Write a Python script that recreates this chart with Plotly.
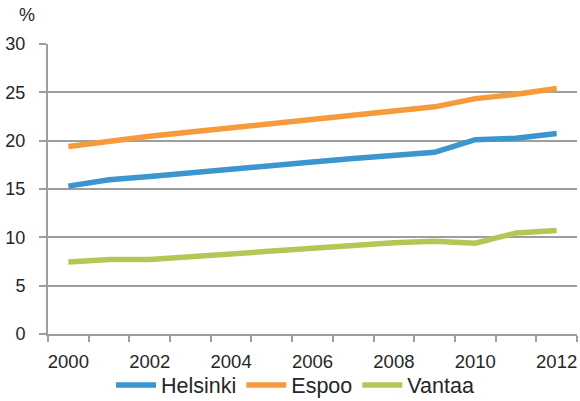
import plotly.graph_objects as go

years = list(range(2000, 2013))
helsinki = [15.3, 15.95, 16.3, 16.7, 17.05, 17.45, 17.8, 18.15, 18.5, 18.8, 20.1, 20.25, 20.75]
espoo = [19.4, 19.95, 20.45, 20.9, 21.35, 21.8, 22.25, 22.65, 23.1, 23.5, 24.35, 24.8, 25.4]
vantaa = [7.45, 7.7, 7.7, 8.0, 8.25, 8.55, 8.85, 9.15, 9.45, 9.6, 9.4, 10.45, 10.7]
series_names = ["Helsinki", "Espoo", "Vantaa"]
colors = ["#3B95CF", "#F59B3B", "#B7C557"]
xtick_vals = [2000, 2002, 2004, 2006, 2008, 2010, 2012]
ytick_vals = [0, 5, 10, 15, 20, 25, 30]

fig = go.Figure()
for name, vals, c in zip(series_names, [helsinki, espoo, vantaa], colors):
    fig.add_trace(go.Scatter(x=years, y=vals, mode="lines", name=name,
                             line=dict(color=c, width=5.5)))

grid = "#9E9E9E"
fig.update_layout(
    width=580, height=401,
    margin=dict(l=48, r=3, t=44, b=67, autoexpand=False),
    plot_bgcolor="white", paper_bgcolor="white",
    font=dict(family="Liberation Sans, Arial, sans-serif", size=18, color="#262626"),
    showlegend=True,
    legend=dict(orientation="h", x=0.467, xanchor="center", y=-0.105, yanchor="top",
                font=dict(size=21.5), itemwidth=40, tracegroupgap=0,
                bgcolor="rgba(0,0,0,0)"),
    xaxis=dict(range=[1999.5, 2012.5], tickmode="array", tickvals=xtick_vals,
               showgrid=False, zeroline=False, showline=True, linecolor=grid, linewidth=2,
               ticks="", ticklabelstandoff=10, automargin=False,
               tickfont=dict(size=18.5),
               minor=dict(ticks="outside", tick0=1999.5, dtick=1, ticklen=6,
                          tickwidth=2, tickcolor=grid, showgrid=False)),
    yaxis=dict(range=[0, 30], tickmode="array", tickvals=ytick_vals,
               showgrid=True, gridcolor=grid, gridwidth=2, zeroline=False,
               showline=True, linecolor=grid, linewidth=2, automargin=False,
               ticks="outside", ticklen=7, tickwidth=2, tickcolor=grid,
               ticklabelstandoff=10),
)
fig.add_annotation(text="%", xref="paper", yref="paper", x=-0.041, y=1.0,
                   xshift=-9, yshift=41, showarrow=False, font=dict(size=18))
fig.write_html("out.html", config={"displayModeBar": False},
               post_script="document.body.style.margin='0';document.body.style.overflow='hidden';")
